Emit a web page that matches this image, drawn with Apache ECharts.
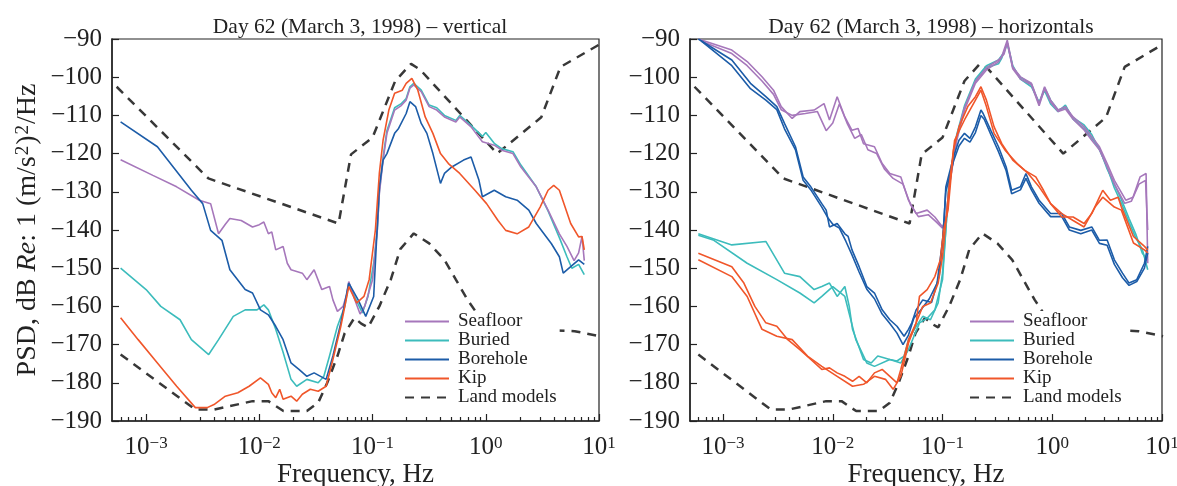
<!DOCTYPE html>
<html>
<head>
<meta charset="utf-8">
<script src="https://cdn.jsdelivr.net/npm/echarts@6/dist/echarts.min.js"></script>
<style>
html, body { margin: 0; padding: 0; background: #fff; }
#main { width: 1177px; height: 486px; }
</style>
</head>
<body>
<div id="main"></div>
<script>
// all curves are [log10 f (Hz), PSD dB]
const titles = ['Day 62 (March 3, 1998) \u2013 vertical', 'Day 62 (March 3, 1998) \u2013 horizontals']
const legendNames = ['Seafloor', 'Buried', 'Borehole', 'Kip', 'Land models']
const xMajorTicks = [0.001, 0.01, 0.1, 1, 10]
const xMinorTicks = [6e-4, 7e-4, 8e-4, 9e-4,
  2e-3, 3e-3, 4e-3, 5e-3, 6e-3, 7e-3, 8e-3, 9e-3,
  0.02, 0.03, 0.04, 0.05, 0.06, 0.07, 0.08, 0.09,
  0.2, 0.3, 0.4, 0.5, 0.6, 0.7, 0.8, 0.9,
  2, 3, 4, 5, 6, 7, 8, 9]

// land noise models (same on both panels)
const landHigh = [[-3.26,-102.5],[-2.45,-126.5],[-1.30,-138.3],[-1.19,-120.2],[-1.0,-115.8],[-0.80,-101],
  [-0.66,-96.5],[-0.58,-98],[0.10,-120],[0.49,-110.5],[0.66,-97.3],[1.0,-91.5]]
const landLow = [[-3.225,-172.6],[-2.565,-187],[-2.4,-187],[-2.06,-184.8],[-1.92,-184.8],[-1.787,-187.4],
  [-1.58,-187.4],[-1.48,-185.2],[-1.40,-180],[-1.31,-173],[-1.246,-167],[-1.16,-163],[-1.1,-164.5],
  [-1.04,-165.5],[-0.94,-160],[-0.839,-153],[-0.755,-145],[-0.636,-140.9],[-0.5,-143.5],[-0.365,-147.8],
  [-0.264,-153],[-0.16,-158.3],[-0.06,-162.6],[0.1,-165.5],[0.4,-166],[0.785,-166.5],[1.01,-167.8]]

// vertical component
const vSeafloor = [[-3.225,-121.6],[-2.94,-125.7],[-2.73,-128.7],[-2.53,-132.2],[-2.43,-133.1],[-2.36,-141],
  [-2.30,-138.5],[-2.26,-137],[-2.16,-137.5],[-2.06,-139.2],[-2.0,-138.6],[-1.96,-137.9],[-1.92,-141],
  [-1.89,-140.5],[-1.855,-145.2],[-1.79,-144.3],[-1.753,-148.7],[-1.72,-150.4],[-1.62,-151.3],[-1.58,-153],
  [-1.516,-150.4],[-1.448,-155.6],[-1.38,-154.8],[-1.35,-158.3],[-1.31,-161.3],[-1.26,-160],[-1.23,-157],
  [-1.21,-153.5],[-1.16,-158],[-1.11,-162],[-1.07,-160],[-1.0,-153],[-0.958,-140],[-0.94,-130.5],
  [-0.907,-121.7],[-0.873,-114.7],[-0.805,-108.6],[-0.75,-107.5],[-0.703,-106],[-0.67,-102.9],[-0.636,-102],
  [-0.57,-103.8],[-0.5,-107.7],[-0.433,-108.6],[-0.365,-110.4],[-0.264,-111.7],[-0.23,-110.4],[-0.13,-113],
  [-0.03,-116.9],[0.075,-117.8],[0.14,-119.1],[0.24,-120],[0.31,-123.5],[0.446,-128.7],[0.55,-134.8],
  [0.65,-141],[0.717,-144.3],[0.78,-148],[0.82,-146],[0.85,-141.7],[0.87,-148]]
const vBuried = [[-3.225,-150],[-3.0,-155.6],[-2.87,-160],[-2.70,-163.5],[-2.6,-168.7],[-2.447,-172.6],
  [-2.36,-168.7],[-2.23,-162.6],[-2.125,-160.9],[-2.02,-160.9],[-1.96,-159.6],[-1.92,-160.9],[-1.855,-166],
  [-1.79,-172],[-1.72,-179.1],[-1.67,-180.9],[-1.58,-179.1],[-1.48,-180],[-1.43,-178.3],[-1.38,-173],
  [-1.31,-165.2],[-1.245,-160],[-1.21,-153.9],[-1.16,-157.4],[-1.09,-161.7],[-1.04,-157.4],[-0.99,-148.7],
  [-0.958,-140],[-0.94,-130],[-0.907,-121],[-0.873,-114],[-0.805,-108],[-0.75,-107],[-0.703,-105.6],
  [-0.67,-102.5],[-0.636,-101.6],[-0.57,-103.4],[-0.5,-107.3],[-0.433,-108],[-0.365,-110],[-0.264,-111.3],
  [-0.23,-110],[-0.13,-112.6],[-0.03,-115.5],[0.0,-114.5],[0.075,-117.3],[0.14,-118.7],[0.24,-119.5],
  [0.31,-123],[0.446,-128.7],[0.55,-135],[0.65,-142],[0.717,-147],[0.76,-150],[0.82,-149],[0.87,-151.7]]
const vBorehole = [[-3.225,-111.7],[-2.90,-118.2],[-2.6,-129.6],[-2.5,-133.1],[-2.43,-140.1],[-2.33,-142.7],
  [-2.26,-150.4],[-2.125,-155.6],[-2.06,-156.5],[-1.99,-160.9],[-1.92,-162.2],[-1.855,-165.2],[-1.79,-168.7],
  [-1.72,-174.8],[-1.65,-176.5],[-1.58,-178.3],[-1.516,-177.4],[-1.41,-179.1],[-1.35,-173],[-1.28,-164.3],
  [-1.21,-153.9],[-1.127,-158.3],[-1.06,-162.6],[-0.99,-157.4],[-0.96,-140],[-0.94,-128.7],[-0.907,-121.7],
  [-0.873,-120],[-0.805,-114.7],[-0.77,-113.4],[-0.703,-109.5],[-0.67,-106.4],[-0.62,-107.7],[-0.57,-112.1],
  [-0.52,-114.7],[-0.467,-120],[-0.4,-127.8],[-0.365,-125.2],[-0.3,-123.5],[-0.196,-121.7],[-0.13,-120.9],
  [-0.06,-127],[-0.03,-131.3],[0.075,-129.6],[0.176,-131.3],[0.277,-132.2],[0.38,-134.8],[0.446,-138.3],
  [0.58,-143.6],[0.65,-147],[0.684,-151.3],[0.75,-149.6],[0.82,-147.8],[0.87,-149]]
const vKip = [[-3.225,-163],[-3.07,-168.7],[-2.9,-174.8],[-2.73,-180.9],[-2.565,-186.5],[-2.46,-186.5],
  [-2.4,-185.7],[-2.3,-183.5],[-2.19,-182.6],[-2.09,-180.9],[-1.99,-178.7],[-1.92,-180.4],[-1.89,-182.6],
  [-1.855,-183.9],[-1.82,-181.7],[-1.79,-184.3],[-1.72,-183.5],[-1.67,-184.8],[-1.62,-183],[-1.55,-181.7],
  [-1.48,-182.2],[-1.41,-180.9],[-1.35,-173.9],[-1.28,-165.2],[-1.21,-154.8],[-1.14,-159.1],[-1.076,-157.4],
  [-1.03,-153],[-0.975,-140],[-0.94,-125.2],[-0.907,-116.5],[-0.856,-108.6],[-0.805,-104.2],[-0.737,-103.4],
  [-0.703,-101.6],[-0.653,-100.3],[-0.60,-103.4],[-0.535,-110.4],[-0.467,-114.7],[-0.4,-120],[-0.33,-122.6],
  [-0.23,-125.2],[-0.096,-129.6],[0.007,-133.1],[0.108,-137.5],[0.176,-140.1],[0.277,-141],[0.38,-139.2],
  [0.48,-134],[0.55,-129.6],[0.6,-128.3],[0.65,-129.6],[0.75,-138.3],[0.82,-141.8],[0.85,-141.7],[0.87,-145.2]]

// two horizontal components
const hSeafloor1 = [[-3.225,-90],[-2.92,-92.9],[-2.78,-95.9],[-2.645,-99.9],[-2.54,-103.4],[-2.47,-107.7],
  [-2.37,-110.8],[-2.3,-109],[-2.17,-108.6],[-2.08,-106.9],[-2.03,-111.2],[-1.96,-105.1],[-1.89,-110.4],
  [-1.825,-113.9],[-1.77,-113.4],[-1.72,-117.4],[-1.62,-118.2],[-1.55,-122.6],[-1.48,-125.2],[-1.38,-126.1],
  [-1.31,-132.2],[-1.24,-135.7],[-1.14,-134.8],[-1.07,-136.6],[-1.0,-139.2],[-0.97,-137.5],[-0.94,-128.7],
  [-0.87,-116.5],[-0.8,-108.6],[-0.70,-101.6],[-0.6,-98.1],[-0.49,-96],[-0.46,-94.6],[-0.41,-90.3],
  [-0.36,-97.3],[-0.29,-99.9],[-0.19,-101.6],[-0.12,-106.9],[-0.07,-102.5],[-0.015,-106],[0.053,-108.6],
  [0.12,-107.7],[0.19,-110.4],[0.29,-113],[0.36,-115.6],[0.43,-118.2],[0.5,-122.6],[0.566,-127],
  [0.67,-132.2],[0.736,-131.4],[0.80,-126.1],[0.855,-125.2],[0.87,-148.7]]
const hSeafloor2 = [[-3.2,-90.5],[-2.92,-93.8],[-2.78,-97],[-2.645,-101],[-2.54,-104.5],[-2.47,-108.5],
  [-2.37,-110],[-2.25,-109.5],[-2.14,-109],[-2.06,-114],[-2.0,-112],[-1.94,-107],[-1.87,-112],[-1.8,-116],
  [-1.74,-115],[-1.68,-119],[-1.6,-120],[-1.53,-124],[-1.45,-126.5],[-1.36,-128],[-1.29,-133.5],
  [-1.22,-136.5],[-1.13,-136],[-1.06,-137.8],[-1.0,-139.5],[-0.96,-136],[-0.93,-127],[-0.87,-115.5],
  [-0.8,-108],[-0.7,-101],[-0.6,-97.5],[-0.49,-95.5],[-0.44,-94],[-0.41,-91],[-0.36,-97.8],[-0.29,-100.5],
  [-0.19,-102],[-0.12,-107.5],[-0.07,-103],[-0.015,-106.5],[0.053,-109],[0.12,-108.3],[0.19,-111],
  [0.29,-113.8],[0.36,-116.5],[0.43,-119],[0.5,-123.5],[0.566,-128],[0.66,-133],[0.72,-132.5],[0.79,-128],
  [0.85,-127],[0.87,-140]]
const hBuried1 = [[-3.225,-141],[-2.92,-143.9],[-2.61,-143],[-2.44,-151.3],[-2.3,-152.2],[-2.17,-155.6],
  [-2.1,-154.8],[-2.03,-153.9],[-1.96,-157.4],[-1.89,-154.8],[-1.85,-160],[-1.82,-166],[-1.72,-173.9],
  [-1.65,-174.8],[-1.59,-173],[-1.48,-173.9],[-1.415,-174.3],[-1.35,-173],[-1.31,-168.7],[-1.24,-165.2],
  [-1.18,-162.6],[-1.11,-163.5],[-1.04,-159.1],[-1.0,-151.3],[-0.97,-140],[-0.94,-128],[-0.87,-116],
  [-0.8,-108],[-0.7,-101],[-0.6,-97.5],[-0.49,-96.5],[-0.46,-95],[-0.41,-91],[-0.36,-97.5],[-0.29,-100],
  [-0.19,-101.8],[-0.12,-107],[-0.07,-102.8],[-0.015,-106],[0.053,-108.6],[0.12,-108],[0.19,-110.6],
  [0.29,-112.5],[0.36,-115],[0.43,-119],[0.5,-123.5],[0.566,-129],[0.63,-133],[0.7,-138],[0.76,-142],
  [0.82,-145],[0.87,-150.4]]
const hBuried2 = [[-3.225,-141.4],[-3.09,-142.6],[-2.78,-148.7],[-2.51,-153],[-2.3,-156.5],[-2.17,-159.1],
  [-2.1,-157.4],[-2.0,-154.8],[-1.89,-157.4],[-1.79,-168.7],[-1.69,-174.8],[-1.62,-175.7],[-1.48,-173.9],
  [-1.38,-174.8],[-1.31,-171.3],[-1.21,-164.3],[-1.14,-163.1],[-1.07,-160.9],[-1.0,-153],[-0.97,-140],
  [-0.94,-127],[-0.87,-115],[-0.8,-107.5],[-0.7,-100.5],[-0.6,-97],[-0.49,-95.5],[-0.44,-93.5],[-0.41,-91],
  [-0.36,-97],[-0.29,-100.5],[-0.19,-102.5],[-0.12,-106.5],[-0.07,-103.5],[-0.015,-107],[0.053,-109],
  [0.12,-107.3],[0.19,-111],[0.29,-113.5],[0.36,-116],[0.43,-118.6],[0.5,-124],[0.566,-128],[0.63,-132],
  [0.7,-137],[0.76,-141],[0.82,-146],[0.87,-148]]
const hBorehole1 = [[-3.225,-90],[-2.92,-95.5],[-2.75,-101.6],[-2.61,-105.1],[-2.51,-107.7],[-2.44,-112.1],
  [-2.34,-118.2],[-2.27,-126.1],[-2.2,-128.7],[-2.1,-133.1],[-2.06,-134.8],[-2.03,-139.2],[-1.96,-138.3],
  [-1.89,-141],[-1.86,-141.7],[-1.825,-145.2],[-1.76,-149.6],[-1.69,-154.8],[-1.62,-156.5],[-1.55,-160.9],
  [-1.48,-163.5],[-1.415,-165.2],[-1.35,-167.8],[-1.31,-166],[-1.28,-164.3],[-1.24,-160.9],[-1.18,-158.3],
  [-1.1,-159],[-1.03,-152],[-0.99,-140],[-0.97,-128.7],[-0.9,-120.9],[-0.85,-116.5],[-0.8,-114.7],
  [-0.75,-116],[-0.7,-113],[-0.65,-108.6],[-0.63,-109.5],[-0.56,-113.9],[-0.49,-118.2],[-0.42,-123.5],
  [-0.37,-129.6],[-0.29,-128.7],[-0.24,-125.2],[-0.19,-128.7],[-0.12,-132.2],[-0.015,-135.7],[0.087,-135.7],
  [0.156,-139.2],[0.26,-140.1],[0.36,-139.2],[0.43,-142.7],[0.5,-142.6],[0.566,-147.8],[0.64,-151.3],
  [0.70,-153.9],[0.77,-153],[0.84,-148.7],[0.87,-144.3]]
const hBorehole2 = [[-3.2,-90.5],[-2.92,-97],[-2.75,-103],[-2.61,-106],[-2.51,-108.5],[-2.44,-113.5],
  [-2.34,-119],[-2.27,-127],[-2.2,-129.5],[-2.1,-134],[-2.04,-137],[-2.0,-138.5],[-1.94,-139.5],[-1.88,-143],
  [-1.825,-146.5],[-1.76,-151],[-1.69,-155.5],[-1.62,-158],[-1.55,-162],[-1.48,-164.5],[-1.415,-167],
  [-1.36,-170],[-1.31,-167.5],[-1.26,-163],[-1.2,-161],[-1.12,-158],[-1.05,-154],[-1.0,-143],[-0.97,-130],
  [-0.9,-122],[-0.85,-118],[-0.8,-116],[-0.75,-117],[-0.7,-114.5],[-0.65,-110],[-0.62,-111],[-0.56,-115],
  [-0.49,-119.5],[-0.42,-124.5],[-0.37,-130.5],[-0.29,-129.5],[-0.24,-126.5],[-0.19,-129.5],[-0.12,-133],
  [-0.015,-136.5],[0.087,-136.5],[0.156,-140],[0.26,-141],[0.36,-140],[0.43,-143.5],[0.5,-144],
  [0.566,-149],[0.64,-152.5],[0.7,-154.5],[0.77,-153.5],[0.84,-150],[0.87,-146]]
const hKip1 = [[-3.225,-146.1],[-2.92,-149.6],[-2.81,-153.9],[-2.71,-160],[-2.61,-164.3],[-2.51,-165.2],
  [-2.41,-168.7],[-2.3,-171.3],[-2.2,-173.9],[-2.1,-176.5],[-2.03,-176.1],[-1.96,-177.4],[-1.89,-178.3],
  [-1.82,-179.6],[-1.76,-178.3],[-1.69,-180],[-1.62,-177.4],[-1.55,-176.5],[-1.48,-178.3],[-1.415,-180],
  [-1.38,-176.5],[-1.31,-168.7],[-1.24,-164.3],[-1.21,-157.4],[-1.14,-155.6],[-1.07,-152.2],[-1.02,-147.8],
  [-0.99,-140],[-0.95,-134.8],[-0.9,-119.1],[-0.85,-113],[-0.77,-107.7],[-0.7,-105.1],[-0.65,-102.5],
  [-0.6,-106],[-0.53,-113],[-0.46,-117.4],[-0.36,-121.7],[-0.25,-124.4],[-0.15,-126.1],[-0.08,-129.6],
  [-0.015,-133.1],[0.087,-136.6],[0.19,-136.6],[0.29,-138.3],[0.36,-135.7],[0.43,-131.4],[0.46,-129.6],
  [0.53,-132.2],[0.6,-131.4],[0.63,-134],[0.74,-141.7],[0.84,-144.3],[0.87,-145.2]]
const hKip2 = [[-3.225,-147.8],[-2.92,-152.2],[-2.78,-157.4],[-2.645,-166],[-2.51,-167.8],[-2.37,-168.7],
  [-2.23,-173],[-2.1,-175.7],[-1.96,-178.3],[-1.82,-180.9],[-1.72,-180.4],[-1.62,-178.3],[-1.52,-179.1],
  [-1.45,-181.7],[-1.38,-178.3],[-1.31,-169.6],[-1.24,-164.3],[-1.18,-160],[-1.11,-159.1],[-1.04,-153.9],
  [-1.0,-147],[-0.97,-138],[-0.94,-128.7],[-0.89,-116.5],[-0.8,-111.2],[-0.7,-106],[-0.65,-103.4],
  [-0.6,-107.7],[-0.53,-114.7],[-0.43,-119.1],[-0.32,-122.6],[-0.22,-125.2],[-0.12,-128.7],[-0.015,-133.1],
  [0.087,-135.7],[0.19,-137.5],[0.29,-139.2],[0.39,-134],[0.46,-131.4],[0.566,-134],[0.63,-134.8],
  [0.74,-143.4],[0.84,-145.2],[0.87,-146]]

const colors = {
  'Seafloor': '#a677bb',
  'Buried': '#3cbcbc',
  'Borehole': '#1c5ca8',
  'Kip': '#f0562a',
  'Land models': '#383838'
}

const serif = 'Liberation Serif'
const hz = pts => pts.map(p => [Math.pow(10, p[0]), p[1]])

function curve(name, pts, panel) {
  const dashed = name === 'Land models'
  return {
    name: name,
    type: 'line',
    xAxisIndex: panel * 2,
    yAxisIndex: panel,
    data: hz(pts),
    showSymbol: false,
    symbol: 'none',
    animation: false,
    lineStyle: {
      color: colors[name],
      width: dashed ? 2.5 : 1.6,
      type: dashed ? [9, 7] : 'solid'
    },
    itemStyle: { color: colors[name] }
  }
}

// v6 shrinks the grid to keep labels inside unless told not to
const grids = [
  { left: 112, top: 39, width: 487, height: 382 },
  { left: 690, top: 39, width: 472, height: 382 }
]

function xAxes(i) {
  const base = {
    type: 'log', logBase: 10, min: 0.0005, max: 10, gridIndex: i, position: 'bottom',
    splitLine: { show: false }
  }
  return [
    Object.assign({}, base, {
      name: 'Frequency, Hz',
      nameLocation: 'middle',
      nameGap: 40,
      nameMoveOverlap: false,
      nameTextStyle: { fontFamily: serif, fontSize: 27, color: '#222' },
      axisLine: { show: true, lineStyle: { color: '#222', width: 1.5 } },
      axisTick: { show: true, inside: true, length: 7, customValues: xMajorTicks, lineStyle: { color: '#222', width: 1.2 } },
      axisLabel: {
        show: true, margin: 14, customValues: xMajorTicks,
        formatter: v => {
          const e = Math.round(Math.log10(v))
          return '{b|10}{s|' + (e < 0 ? '\u2212' : '') + Math.abs(e) + '}'
        },
        rich: {
          b: { fontFamily: serif, fontSize: 25, color: '#222', verticalAlign: 'bottom', lineHeight: 25 },
          s: { fontFamily: serif, fontSize: 17, color: '#222', verticalAlign: 'top', lineHeight: 17, padding: [0, 0, 10, 0] }
        }
      }
    }),
    Object.assign({}, base, {
      axisLine: { show: false },
      axisLabel: { show: false },
      axisTick: { show: true, inside: true, length: 4, customValues: xMinorTicks, lineStyle: { color: '#222', width: 1.2 } }
    })
  ]
}

function yAxis(i) {
  const ax = {
    type: 'value', gridIndex: i, min: -190, max: -90, interval: 10,
    splitLine: { show: false },
    axisLine: { show: true, lineStyle: { color: '#222', width: 1.5 } },
    axisTick: { show: true, inside: true, length: 7, lineStyle: { color: '#222', width: 1.2 } },
    axisLabel: {
      margin: 10, fontFamily: serif, fontSize: 25, color: '#222',
      formatter: v => (v < 0 ? '\u2212' : '') + Math.abs(v)
    }
  }
  if (i === 0) {
    ax.name = '{a|PSD, dB }{i|Re}{a|: 1 (m/s}{s|2}{a|)}{s|2}{a|/Hz}'
    ax.nameLocation = 'middle'
    ax.nameGap = 70
    ax.nameMoveOverlap = false
    ax.nameTextStyle = {
      rich: {
        a: { fontFamily: serif, fontSize: 28, color: '#222', verticalAlign: 'bottom', lineHeight: 28 },
        i: { fontFamily: serif, fontSize: 28, fontStyle: 'italic', color: '#222', verticalAlign: 'bottom', lineHeight: 28 },
        s: { fontFamily: serif, fontSize: 19, color: '#222', verticalAlign: 'top', lineHeight: 19, padding: [0, 1, 11, 1] }
      }
    }
  }
  return ax
}

function legend(left) {
  return {
    data: legendNames,
    orient: 'vertical',
    left: left,
    top: 311,
    padding: [1, 3],
    backgroundColor: '#fff',
    itemWidth: 44,
    itemHeight: 12,
    itemGap: 0,
    selectedMode: false,
    itemStyle: { opacity: 0 },
    textStyle: { fontFamily: serif, fontSize: 19, color: '#222', lineHeight: 19, padding: [0, 0, 0, 4] }
  }
}

const series = [
  curve('Land models', landHigh, 0),
  curve('Land models', landLow, 0),
  curve('Buried', vBuried, 0),
  curve('Seafloor', vSeafloor, 0),
  curve('Borehole', vBorehole, 0),
  curve('Kip', vKip, 0),
  curve('Land models', landHigh, 1),
  curve('Land models', landLow, 1),
  curve('Buried', hBuried1, 1),
  curve('Buried', hBuried2, 1),
  curve('Seafloor', hSeafloor1, 1),
  curve('Seafloor', hSeafloor2, 1),
  curve('Borehole', hBorehole1, 1),
  curve('Borehole', hBorehole2, 1),
  curve('Kip', hKip1, 1),
  curve('Kip', hKip2, 1)
]

const chart = echarts.init(document.getElementById('main'), null, { renderer: 'canvas' })
chart.setOption({
  backgroundColor: '#fff',
  animation: false,
  title: [
    { text: titles[0], left: 355, top: 11, textAlign: 'center', textStyle: { fontFamily: serif, fontSize: 21.5, fontWeight: 'normal', color: '#222' } },
    { text: titles[1], left: 926, top: 11, textAlign: 'center', textStyle: { fontFamily: serif, fontSize: 21.5, fontWeight: 'normal', color: '#222' } }
  ],
  legend: [legend(401), legend(966)],
  grid: grids.map(g => Object.assign({ show: true, borderColor: '#222', borderWidth: 1.2, outerBoundsMode: 'none' }, g)),
  xAxis: xAxes(0).concat(xAxes(1)),
  yAxis: [yAxis(0), yAxis(1)],
  series: series
})
</script>
</body>
</html>
